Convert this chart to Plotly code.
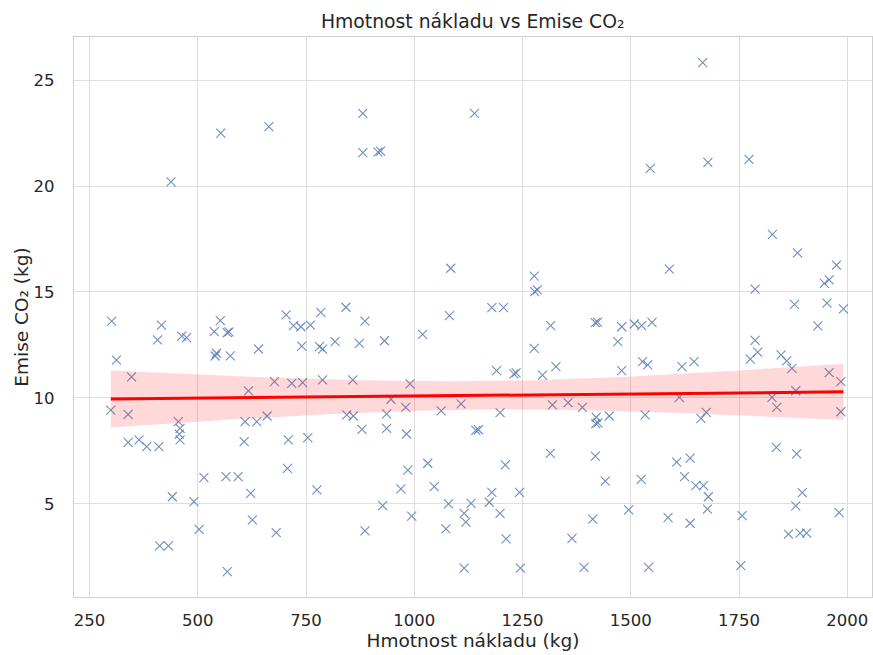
import numpy as np
import plotly.graph_objects as go

# Hmotnost nákladu (kg)
weight_kg = [
    438, 553, 664, 881, 881, 916, 922, 1139, 1084, 1277, 1278, 1284,
    1666, 1545, 1678, 1773, 1589, 1827, 1885, 1975, 1958, 1947, 1787, 1878, 1953, 1991,
    301, 312, 299, 347, 339, 339, 364, 382, 410, 407, 416, 463, 474, 455, 459, 457, 459,
    441, 491, 503, 412, 432, 568, 514, 565, 593, 622, 626, 681, 607, 609, 636, 660, 617,
    640, 538, 552, 568, 572, 543, 540, 575, 709, 754, 707, 775, 677, 717, 742, 788, 704,
    721, 738, 760, 784, 740, 781, 788, 817,
    842, 886, 873, 931, 1019, 1081, 1179, 1206, 1315, 1418, 1423, 1277, 1327, 1296, 1190,
    1230, 1235, 858, 990, 946, 980, 1062, 1108, 1198, 1319, 1355, 1388, 844, 859, 936,
    879, 936, 982, 1142, 1148, 1420, 1419, 1424, 1450, 985, 1031, 969, 1046, 1210, 1314,
    1418, 1441, 1179, 1243, 927, 1079, 1131, 1173, 1198, 994, 1115, 1119, 1073, 886, 1212,
    1364, 1412, 1115, 1245, 1392,
    1932, 1479, 1508, 1525, 1549, 1470, 1479, 1527, 1539, 1618, 1646, 1787, 1793, 1776,
    1847, 1860, 1872, 1958, 1985, 1612, 1826, 1881, 1837, 1985, 1533, 1662, 1674, 1606,
    1637, 1624, 1650, 1668, 1679, 1677, 1524, 1495, 1586, 1637, 1757, 1836, 1883, 1896,
    1881, 1981, 1864, 1891, 1906, 1541, 1754,
]

# Emise CO2 (kg)
co2_kg = [
    20.2, 22.49, 22.8, 23.43, 21.57, 21.6, 21.65, 23.43, 16.12, 15.75, 15.02, 15.1,
    25.82, 20.83, 21.12, 21.26, 16.08, 17.72, 16.85, 16.27, 15.57, 15.41, 15.14, 14.42, 14.47, 14.2,
    13.63, 11.79, 9.43, 11.0, 9.23, 7.91, 8.02, 7.70, 7.70, 12.74, 13.44, 12.92, 12.85, 8.88, 8.57, 8.29, 8.02,
    5.34, 5.11, 3.8, 3.02, 3.02, 1.81, 6.24, 6.29, 6.29, 5.5, 4.25, 3.65, 7.94, 8.88, 8.88, 9.15, 10.33,
    12.31, 13.13, 13.65, 13.08, 13.12, 12.11, 11.98, 11.99, 8.02, 8.13, 6.68, 5.66, 10.77, 10.69, 10.72, 10.85, 13.92,
    13.41, 13.36, 13.44, 14.04, 12.45, 12.42, 12.3, 12.66,
    14.28, 13.63, 12.58, 12.7, 13.0, 13.88, 14.26, 14.26, 13.41, 13.55, 13.58, 12.34, 11.48, 11.08, 11.29,
    11.14, 11.18, 10.85, 10.66, 9.94, 9.56, 9.39, 9.72, 9.31, 9.67, 9.78, 9.56, 9.2, 9.15, 9.25,
    8.52, 8.57, 8.3, 8.47, 8.5, 9.09, 8.79, 8.83, 9.15, 6.6, 6.92, 5.71, 5.82, 6.84, 7.39,
    7.26, 6.08, 5.55, 5.55, 4.92, 5.0, 5.03, 5.08, 4.56, 4.43, 4.56, 4.14, 3.82, 3.73, 3.35,
    3.38, 4.28, 1.97, 1.97, 2.01,
    13.4, 13.36, 13.49, 13.41, 13.57, 12.66, 11.29, 11.71, 11.56, 11.48, 11.71, 12.72, 12.16, 11.83,
    12.03, 11.75, 11.4, 11.2, 10.77, 10.03, 10.03, 10.34, 9.56, 9.35, 9.2, 9.04, 9.32, 6.97,
    7.16, 6.29, 5.86, 5.86, 5.34, 4.76, 6.16, 4.72, 4.35, 4.09, 4.45, 7.67, 7.36, 5.53,
    4.91, 4.59, 3.58, 3.62, 3.62, 2.01, 2.09,
]

x_ticks = [250, 500, 750, 1000, 1250, 1500, 1750, 2000]
y_ticks = [5, 10, 15, 20, 25]

title_text = "Hmotnost nákladu vs Emise CO₂"
x_label = "Hmotnost nákladu (kg)"
y_label = "Emise CO₂ (kg)"

# ---- linear regression with 95% confidence band ----
x = np.asarray(weight_kg, dtype=float)
y = np.asarray(co2_kg, dtype=float)
n = len(x)
slope, intercept = np.polyfit(x, y, 1)
grid = np.linspace(x.min(), x.max(), 100)
fit = intercept + slope * grid
resid = y - (intercept + slope * x)
s = np.sqrt(np.sum(resid ** 2) / (n - 2))
sxx = np.sum((x - x.mean()) ** 2)
half = 1.972 * s * np.sqrt(1.0 / n + (grid - x.mean()) ** 2 / sxx)
upper = fit + half
lower = fit - half

FONT = "DejaVu Sans"
TXT = "#262626"

fig = go.Figure()
fig.add_trace(go.Scatter(
    x=x, y=y, mode="markers",
    marker=dict(symbol="x-thin", size=9, color="rgba(76,114,176,0.8)",
                line=dict(width=1.1, color="rgba(76,114,176,0.8)")),
    showlegend=False, hoverinfo="x+y",
))
fig.add_trace(go.Scatter(
    x=np.concatenate([grid, grid[::-1]]), y=np.concatenate([upper, lower[::-1]]),
    mode="lines", fill="toself", fillcolor="rgba(255,0,0,0.15)",
    line=dict(width=0), showlegend=False, hoverinfo="skip",
))
fig.add_trace(go.Scatter(
    x=grid, y=fit, mode="lines", line=dict(color="red", width=3),
    showlegend=False,
))

axis_common = dict(
    showgrid=True, gridcolor="#dedede", gridwidth=1,
    showline=True, linecolor="#cfcfcf", linewidth=1.3, mirror=True,
    zeroline=False, ticks="",
    tickfont=dict(family=FONT, size=16.5, color=TXT),
)

fig.update_layout(
    width=873, height=655,
    margin=dict(l=74, r=1, t=37, b=58),
    paper_bgcolor="white", plot_bgcolor="white",
    title=dict(text=title_text, x=0.5415, xanchor="center",
               y=1 - 21.5 / 655, yanchor="middle", yref="container",
               font=dict(family=FONT, size=18.8, color=TXT)),
    xaxis=dict(range=[214, 2057], tickvals=x_ticks, ticklabelstandoff=8,
               title=dict(text=x_label, standoff=2,
                          font=dict(family=FONT, size=18.5, color=TXT)),
               **axis_common),
    yaxis=dict(range=[0.61, 27.03], tickvals=y_ticks, ticklabelstandoff=15,
               title=dict(text=y_label, standoff=0,
                          font=dict(family=FONT, size=18.5, color=TXT)),
               **axis_common),
)

fig.write_html("out.html")
